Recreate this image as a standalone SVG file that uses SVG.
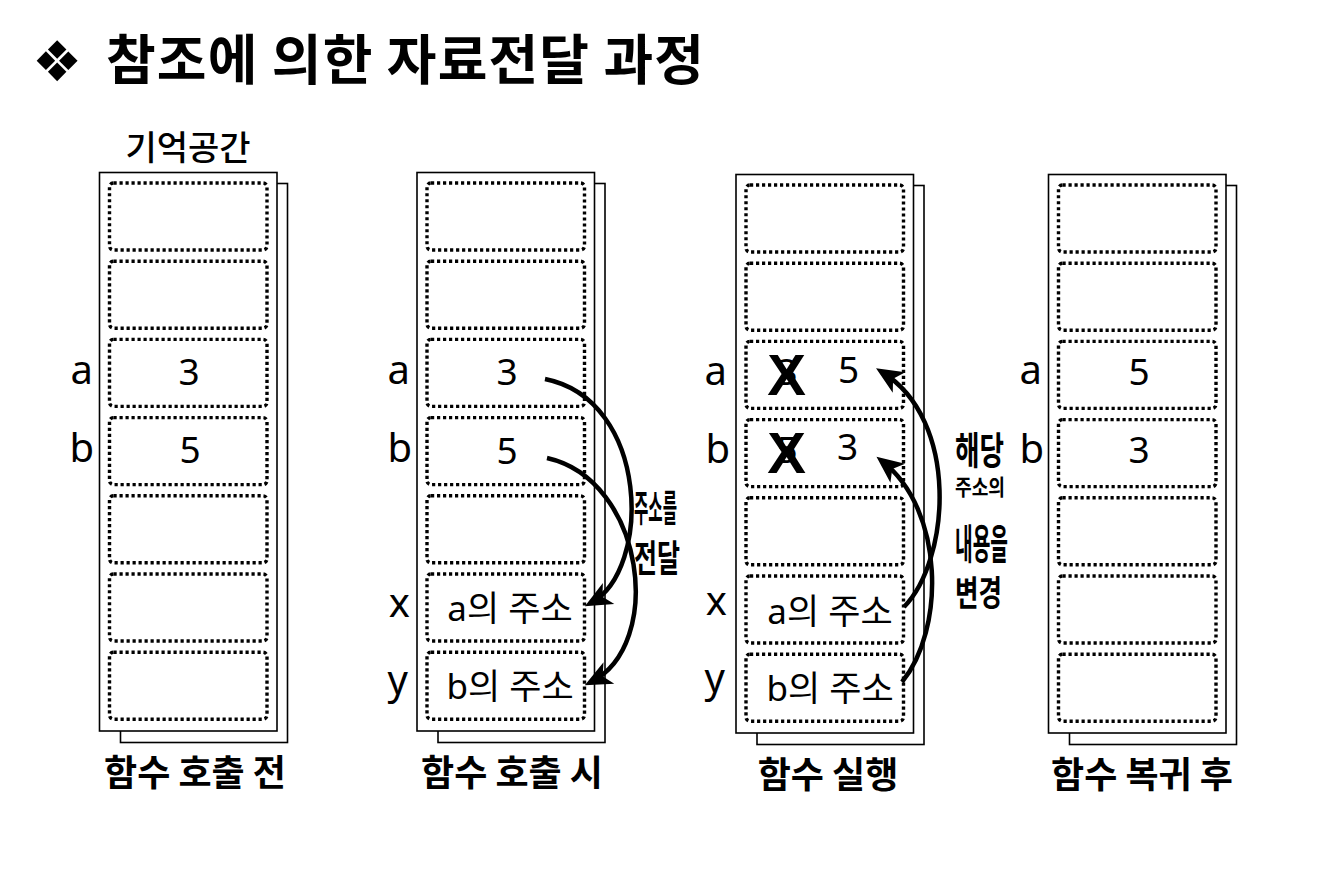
<svg xmlns="http://www.w3.org/2000/svg" width="1322" height="878" viewBox="0 0 1322 878">
<defs>
<style>
.bg{fill:#fff}
.frame{fill:#fff;stroke:#000;stroke-width:1.6}
.cell{fill:none;stroke:#000;stroke-width:3.4;stroke-dasharray:3.2 2.8}
.t{font-family:"Noto Sans","Noto Sans CJK KR",sans-serif;fill:#000}
.lbl{font-size:40px;text-anchor:end}
.num{font-size:37px;text-anchor:middle}
.ct{font-family:"Noto Sans","Noto Sans CJK KR",sans-serif;font-size:35px;text-anchor:middle;fill:#000}
.cap{font-family:"Noto Sans CJK KR",sans-serif;font-size:36px;font-weight:700;text-anchor:middle;fill:#000}
.side{font-family:"Noto Sans CJK KR",sans-serif;font-weight:700;fill:#000}
.xm{font-family:"Liberation Sans",sans-serif;font-weight:700;font-size:58px;text-anchor:middle;fill:#000}
.arr{fill:none;stroke:#000;stroke-width:4.5}
</style>
<marker id="ah" markerUnits="userSpaceOnUse" markerWidth="44" markerHeight="44" viewBox="-32 -16 44 32" refX="0" refY="0" orient="auto">
<path d="M7,0 L-20,-12 L-13,0 L-20,12 Z" fill="#000"/>
</marker>
<g id="cells">
<rect class="cell" x="10" y="10.5" width="157.5" height="67" rx="4"/>
<rect class="cell" x="10" y="88.7" width="157.5" height="67" rx="4"/>
<rect class="cell" x="10" y="166.9" width="157.5" height="67" rx="4"/>
<rect class="cell" x="10" y="245.1" width="157.5" height="67" rx="4"/>
<rect class="cell" x="10" y="323.3" width="157.5" height="67" rx="4"/>
<rect class="cell" x="10" y="401.5" width="157.5" height="67" rx="4"/>
<rect class="cell" x="10" y="479.7" width="157.5" height="67" rx="4"/>
</g>
<g id="stack">
<rect class="frame" x="21" y="11" width="167" height="559"/>
<rect class="frame" x="0" y="0" width="177.5" height="558.5"/>
<use href="#cells"/>
</g>
</defs>
<rect class="bg" x="0" y="0" width="1322" height="878"/>

<g id="title">
<text x="32" y="81" style="font-family:'DejaVu Sans',sans-serif;font-size:56px;fill:#000">❖</text>
<text x="106" y="80" textLength="598" lengthAdjust="spacing" style="font-family:'Noto Sans CJK KR',sans-serif;font-size:54px;font-weight:700;fill:#000">참조에 의한 자료전달 과정</text>
</g>

<g id="panel1">
<text x="188" y="160" style="font-family:'Noto Sans CJK KR',sans-serif;font-size:34px;font-weight:500;text-anchor:middle;fill:#000">기억공간</text>
<use href="#stack" x="99.5" y="172.5"/>
<text class="t lbl" x="93" y="384">a</text>
<text class="t lbl" x="94" y="462">b</text>
<text class="t num" x="189" y="385">3</text>
<text class="t num" x="190" y="463">5</text>
<text class="cap" x="195" y="786">함수 호출 전</text>
</g>

<g id="panel2">
<use href="#stack" x="417" y="172.5"/>
<text class="t lbl" x="410" y="384">a</text>
<text class="t lbl" x="412" y="462">b</text>
<text class="t lbl" x="410" y="617">x</text>
<text class="t lbl" x="408" y="694">y</text>
<text class="t num" x="507" y="385">3</text>
<text class="t num" x="507" y="464">5</text>
<text class="ct" x="510" y="621">a의 주소</text>
<text class="ct" x="510" y="699">b의 주소</text>
<text class="side" x="634" y="522" font-size="37" textLength="43" lengthAdjust="spacingAndGlyphs">주소를</text>
<text class="side" x="634" y="572" font-size="37" textLength="46" lengthAdjust="spacingAndGlyphs">전달</text>
<text class="cap" x="512" y="786">함수 호출 시</text>
</g>

<g id="panel3">
<use href="#stack" x="736" y="174.5"/>
<text class="t lbl" x="727" y="385">a</text>
<text class="t lbl" x="730" y="463">b</text>
<text class="t lbl" x="727" y="615">x</text>
<text class="t lbl" x="725" y="692">y</text>
<text class="t num" x="787" y="385">3</text>
<text class="t num" x="787" y="463">5</text>
<text class="xm" x="786.5" y="395">X</text>
<text class="xm" x="786.5" y="473">X</text>
<text class="t num" x="848.5" y="383">5</text>
<text class="t num" x="847.5" y="460">3</text>
<text class="ct" x="830" y="624">a의 주소</text>
<text class="ct" x="830" y="701">b의 주소</text>
<text class="side" x="955" y="464" font-size="38" textLength="49" lengthAdjust="spacingAndGlyphs">해당</text>
<text class="side" transform="translate(955,495) scale(1,0.62)" font-size="34" textLength="50" lengthAdjust="spacingAndGlyphs">주소의</text>
<text class="side" x="955" y="559" font-size="41" textLength="53" lengthAdjust="spacingAndGlyphs">내용을</text>
<text class="side" x="955" y="606" font-size="35" textLength="47" lengthAdjust="spacingAndGlyphs">변경</text>
<text class="cap" x="828" y="788">함수 실행</text>
</g>

<g id="panel4">
<use href="#stack" x="1048.5" y="174.5"/>
<text class="t lbl" x="1042" y="384">a</text>
<text class="t lbl" x="1044" y="463">b</text>
<text class="t num" x="1139" y="385">5</text>
<text class="t num" x="1139" y="463">3</text>
<text class="cap" x="1142" y="788">함수 복귀 후</text>
</g>

<g id="connectors">
<path class="arr" marker-end="url(#ah)" d="M545,379 C650,400 652,570 591,603"/>
<path class="arr" marker-end="url(#ah)" d="M547,458 C645,480 665,645 591,682"/>
<path class="arr" marker-end="url(#ah)" d="M904,607 C950,560 960,420 882,372"/>
<path class="arr" marker-end="url(#ah)" d="M902,682 C945,630 945,510 882,461"/>
</g>
</svg>
